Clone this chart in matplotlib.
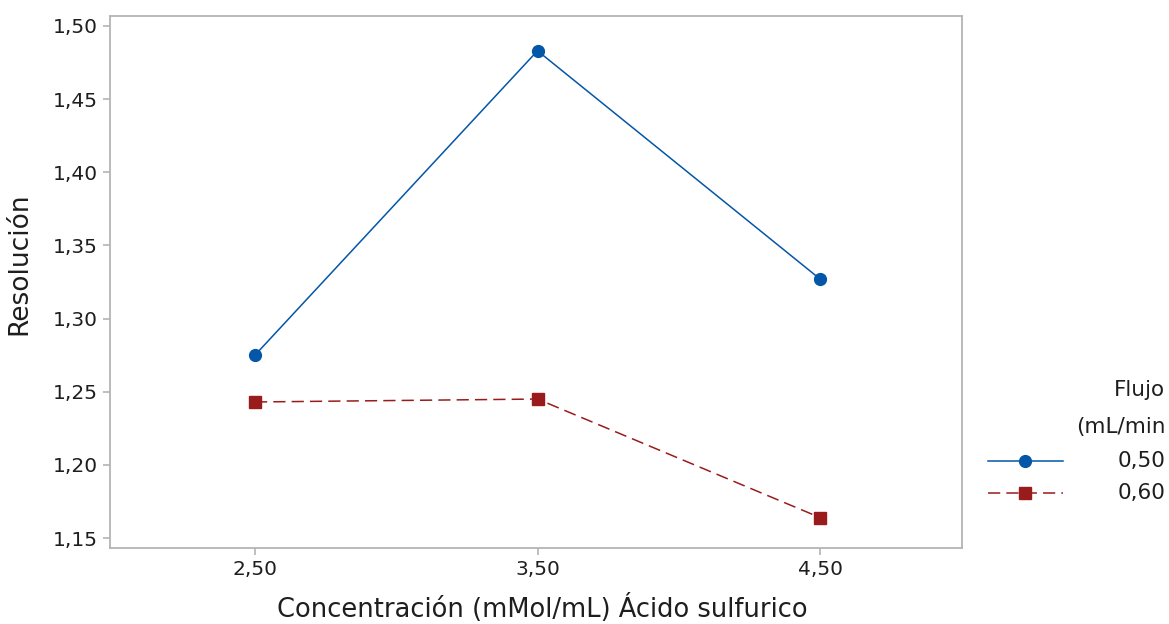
import matplotlib.pyplot as plt
from matplotlib.lines import Line2D
from matplotlib.ticker import FuncFormatter

# data
concentracion = [2.5, 3.5, 4.5]
res_050 = [1.275, 1.483, 1.327]
res_060 = [1.243, 1.245, 1.164]
flujo_labels = ["0,50", "0,60"]
y_ticks = [1.15, 1.20, 1.25, 1.30, 1.35, 1.40, 1.45, 1.50]

blue = "#0456A8"
red = "#9A1B1B"
gray = "#B4B4B4"
txt = "#1E1E1E"

plt.rcParams["font.family"] = ["DejaVu Sans"]

fig = plt.figure(figsize=(11.69, 6.24), dpi=100)
ax = fig.add_axes([0.0941, 0.1218, 0.729, 0.8526])

ax.plot(concentracion, res_050, color=blue, lw=1.1, marker="o", ms=8.5)
ax.plot(concentracion, res_060, color=red, lw=1.1, marker="s", ms=8,
        linestyle=(0, (8, 4)))

ax.set_xlim(1.987, 5.003)
ax.set_ylim(1.1432, 1.5068)
ax.set_xticks(concentracion)
ax.set_yticks(y_ticks)
comma = FuncFormatter(lambda v, p: f"{v:.2f}".replace(".", ","))
ax.xaxis.set_major_formatter(comma)
ax.yaxis.set_major_formatter(comma)

for s in ax.spines.values():
    s.set_color(gray)
    s.set_linewidth(1.3)
ax.tick_params(colors=gray, labelcolor=txt, labelsize=14.5, length=5, width=1.2, pad=4)

ax.set_xlabel("Concentración (mMol/mL) Ácido sulfurico", fontsize=18.5, color=txt)
ax.xaxis.set_label_coords(0.507, -0.086)
ax.set_ylabel("Resolución", fontsize=19, color=txt)
ax.yaxis.set_label_coords(-0.0915, 0.534)

# legend drawn by hand to get the right-aligned look
fig.text(0.997, 1 - 390 / 624, "Flujo", ha="right", va="center", fontsize=15.5, color=txt)
fig.text(0.997, 1 - 427 / 624, "(mL/min", ha="right", va="center", fontsize=15.5, color=txt)
handle_y = [1 - 461 / 624, 1 - 493 / 624]
styles = [dict(color=blue, marker="o", ms=8.5, linestyle="-"),
          dict(color=red, marker="s", ms=8, linestyle=(0, (8, 4)))]
for yy, lab, st in zip(handle_y, flujo_labels, styles):
    fig.add_artist(Line2D([988 / 1169, 1063 / 1169], [yy, yy], lw=1.1,
                          color=st["color"], linestyle=st["linestyle"],
                          transform=fig.transFigure))
    fig.add_artist(Line2D([1025 / 1169], [yy], marker=st["marker"], ms=st["ms"],
                          color=st["color"], linestyle="none",
                          transform=fig.transFigure))
    fig.text(0.997, yy, lab, ha="right", va="center", fontsize=15.5, color=txt)

fig.savefig("out.png", dpi=100, facecolor="white")
